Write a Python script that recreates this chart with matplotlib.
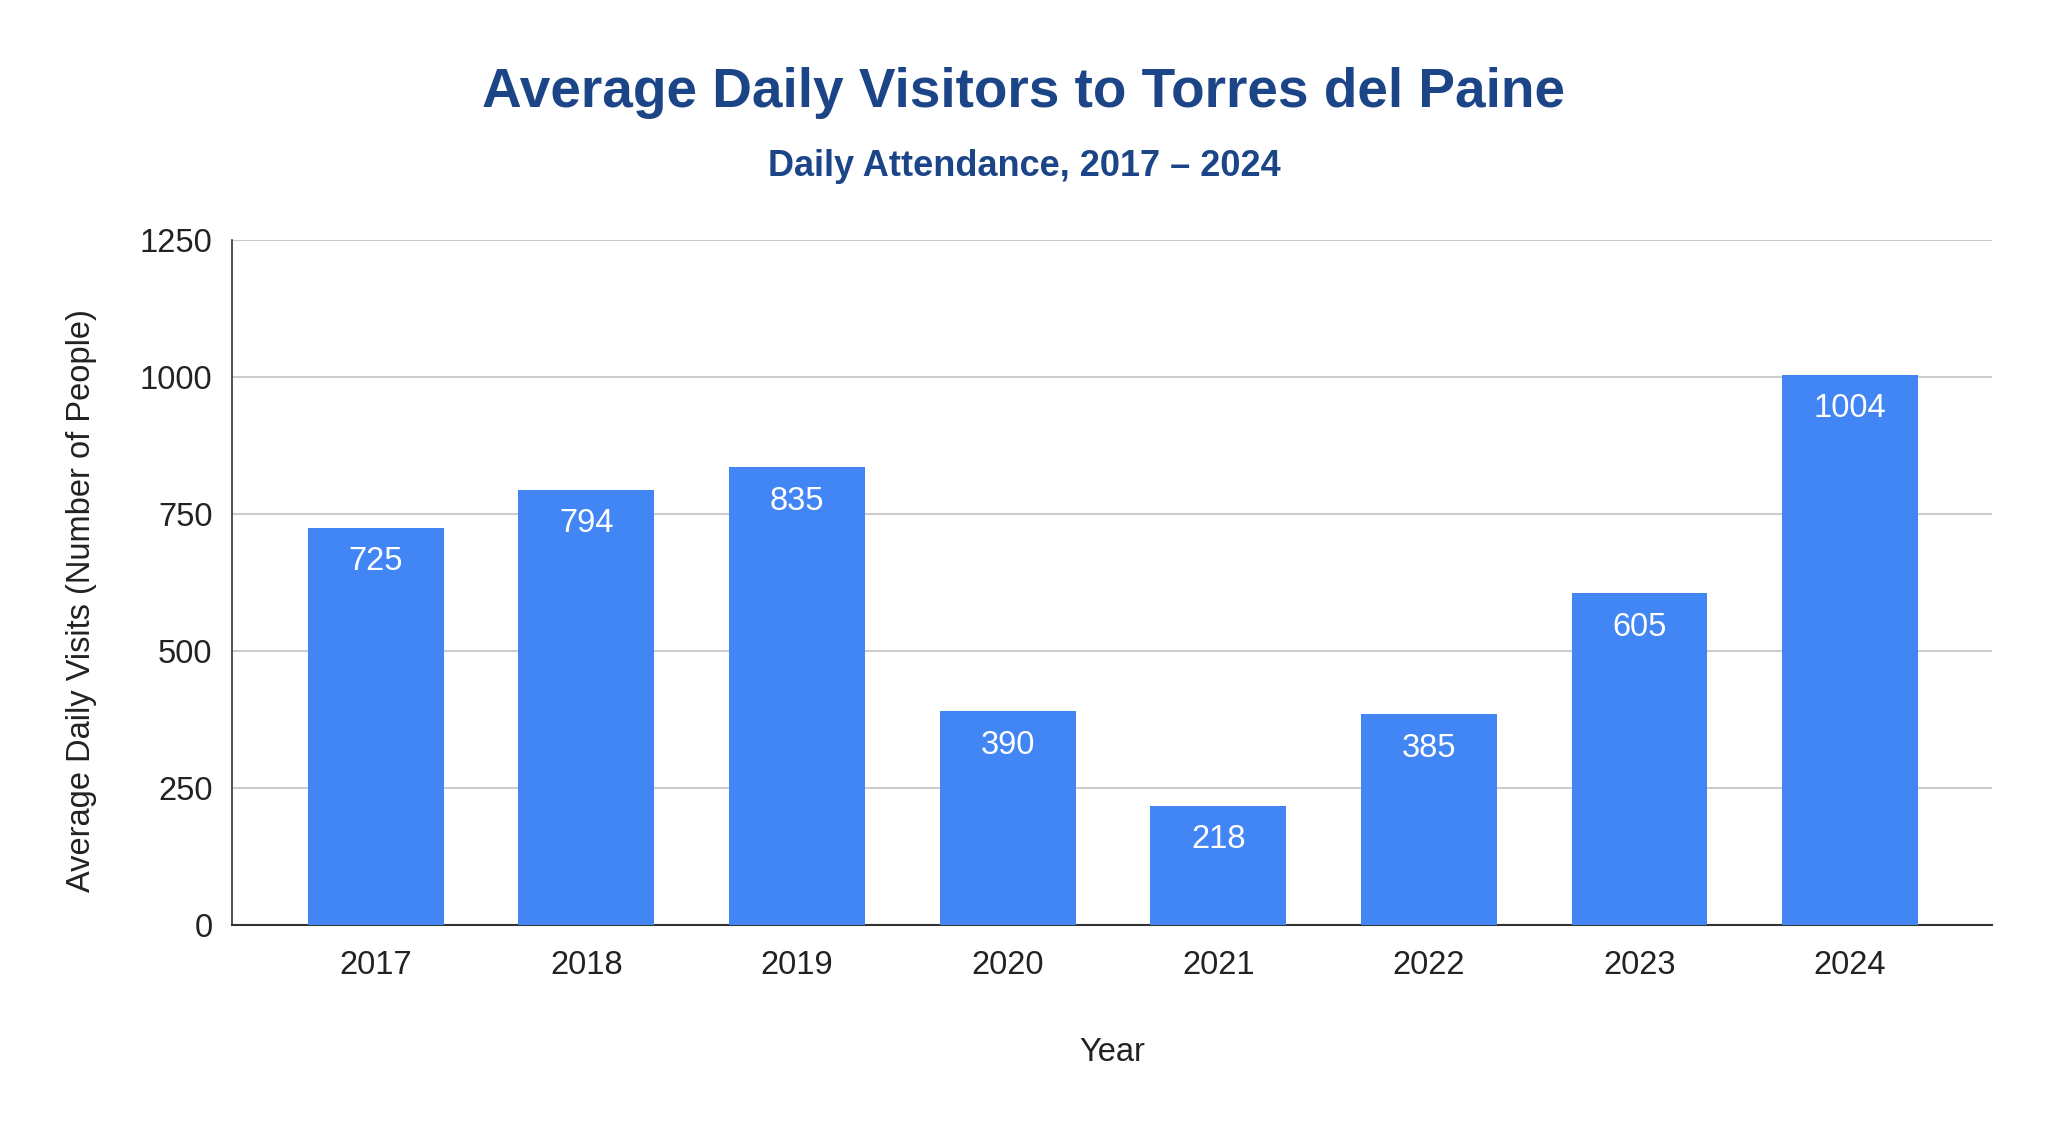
import matplotlib
matplotlib.use("Agg")
import matplotlib.pyplot as plt

# datos
years = ["2017", "2018", "2019", "2020", "2021", "2022", "2023", "2024"]
visitors = [725, 794, 835, 390, 218, 385, 605, 1004]
y_ticks = [0, 250, 500, 750, 1000, 1250]

plt.rcParams['font.family'] = ['Liberation Sans', 'DejaVu Sans']

fig = plt.figure(figsize=(20.48, 11.24), dpi=100)
ax = fig.add_axes([0.1133, 0.177, 0.8594, 0.6095])

x = range(len(years))
bars = ax.bar(x, visitors, width=0.645, color="#4285F4", zorder=3)

# etiquetas dentro de las barras
for b, v in zip(bars, visitors):
    ax.annotate(str(v), (b.get_x() + b.get_width() / 2, v),
                xytext=(0, -34), textcoords="offset pixels",
                ha="center", va="center", color="white", fontsize=23.5)

ax.set_xlim(-0.682, 7.674)
ax.set_ylim(0, 1250)
ax.set_xticks(list(x))
ax.set_xticklabels(years)
ax.set_yticks(y_ticks)
ax.tick_params(axis="both", length=0, labelsize=23.5, colors="#222222")
ax.tick_params(axis="x", pad=18)
ax.tick_params(axis="y", pad=14)

ax.grid(axis="y", color="#cccccc", linewidth=1.5, zorder=0)
for s in ["top", "right"]:
    ax.spines[s].set_visible(False)
ax.spines["left"].set_color("#333333")
ax.spines["bottom"].set_color("#333333")
ax.spines["left"].set_linewidth(1.2)
ax.spines["bottom"].set_linewidth(1.5)

ax.set_xlabel("Year", fontsize=23.5, color="#222222", labelpad=40)
ax.set_ylabel("Average Daily Visits (Number of People)", fontsize=23.5,
              color="#222222", labelpad=31)
ax.yaxis.label.set_y(0.473)

fig.text(0.5, 0.917, "Average Daily Visitors to Torres del Paine",
         ha="center", va="center", fontsize=39.6, fontweight="bold",
         color="#1c4587")
fig.text(0.5, 0.852, "Daily Attendance, 2017 \u2013 2024",
         ha="center", va="center", fontsize=26, fontweight="bold",
         color="#1c4587")

fig.savefig("out.png", dpi=100, facecolor="white")
